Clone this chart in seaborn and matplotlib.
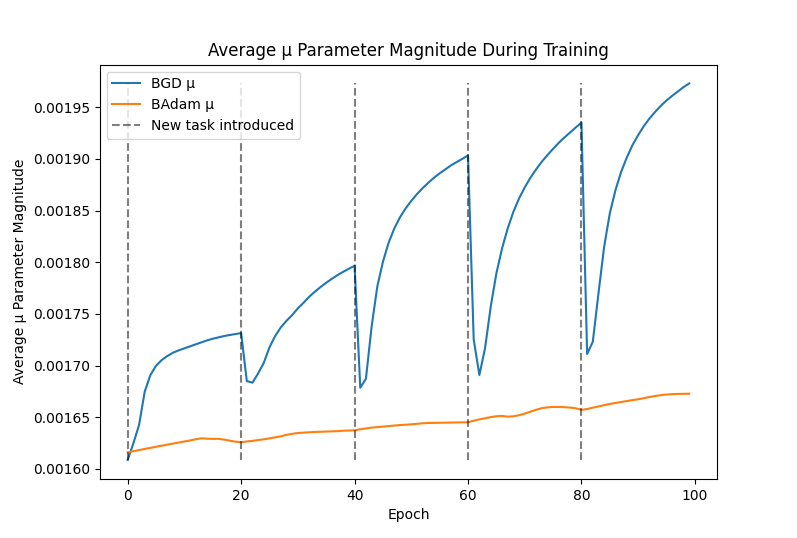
import numpy as np
import pandas as pd
import matplotlib
matplotlib.use("Agg")
import matplotlib.pyplot as plt
import seaborn as sns

epochs = list(range(100))
task_starts = [0, 20, 40, 60, 80]

bgd_mu = [
    0.0016087, 0.0016248, 0.0016425, 0.0016748, 0.0016909, 0.0016999, 0.0017054, 0.0017093, 0.0017125, 0.0017148,
    0.0017167, 0.0017186, 0.0017206, 0.0017225, 0.0017244, 0.0017260, 0.0017273, 0.0017286, 0.0017296, 0.0017305,
    0.0017315, 0.0016850, 0.0016835, 0.0016925, 0.0017028, 0.0017177, 0.0017286, 0.0017370, 0.0017434, 0.0017489,
    0.0017554, 0.0017608, 0.0017666, 0.0017715, 0.0017760, 0.0017802, 0.0017840, 0.0017876, 0.0017908, 0.0017937,
    0.0017966, 0.0016786, 0.0016873, 0.0017376, 0.0017763, 0.0018005, 0.0018189, 0.0018327, 0.0018434, 0.0018521,
    0.0018594, 0.0018659, 0.0018717, 0.0018769, 0.0018817, 0.0018860, 0.0018898, 0.0018937, 0.0018969, 0.0019000,
    0.0019033, 0.0017254, 0.0016909, 0.0017167, 0.0017570, 0.0017892, 0.0018134, 0.0018327, 0.0018488, 0.0018617,
    0.0018724, 0.0018817, 0.0018898, 0.0018972, 0.0019036, 0.0019097, 0.0019155, 0.0019207, 0.0019255, 0.0019304,
    0.0019350, 0.0017112, 0.0017231, 0.0017699, 0.0018150, 0.0018473, 0.0018698, 0.0018875, 0.0019014, 0.0019133,
    0.0019230, 0.0019317, 0.0019391, 0.0019455, 0.0019513, 0.0019565, 0.0019610, 0.0019652, 0.0019694, 0.0019730,
]

badam_mu = [
    0.0016160, 0.0016172, 0.0016183, 0.0016194, 0.0016204, 0.0016215, 0.0016225, 0.0016236, 0.0016246, 0.0016256,
    0.0016266, 0.0016276, 0.0016287, 0.0016297, 0.0016293, 0.0016291, 0.0016292, 0.0016284, 0.0016274, 0.0016264,
    0.0016260, 0.0016266, 0.0016272, 0.0016280, 0.0016287, 0.0016296, 0.0016306, 0.0016316, 0.0016330, 0.0016340,
    0.0016348, 0.0016352, 0.0016355, 0.0016358, 0.0016360, 0.0016362, 0.0016364, 0.0016366, 0.0016370, 0.0016372,
    0.0016374, 0.0016384, 0.0016392, 0.0016400, 0.0016405, 0.0016410, 0.0016415, 0.0016420, 0.0016425, 0.0016428,
    0.0016432, 0.0016437, 0.0016442, 0.0016445, 0.0016446, 0.0016447, 0.0016448, 0.0016449, 0.0016450, 0.0016451,
    0.0016452, 0.0016467, 0.0016480, 0.0016490, 0.0016502, 0.0016510, 0.0016513, 0.0016506, 0.0016510, 0.0016520,
    0.0016536, 0.0016554, 0.0016573, 0.0016588, 0.0016596, 0.0016600, 0.0016600, 0.0016598, 0.0016594, 0.0016587,
    0.0016572, 0.0016580, 0.0016593, 0.0016605, 0.0016617, 0.0016629, 0.0016639, 0.0016648, 0.0016657, 0.0016666,
    0.0016674, 0.0016685, 0.0016696, 0.0016706, 0.0016714, 0.0016720, 0.0016724, 0.0016726, 0.0016727, 0.0016728,
]

df = pd.DataFrame({"Epoch": epochs, "BGD": bgd_mu, "BAdam": badam_mu})

fig, ax = plt.subplots(figsize=(7.97, 5.38), dpi=100)
sns.lineplot(data=df, x="Epoch", y="BGD", label="BGD μ", color="#1f77b4", ax=ax)
sns.lineplot(data=df, x="Epoch", y="BAdam", label="BAdam μ", color="#ff7f0e", ax=ax)

# task boundaries span the full data range
ymin = min(min(bgd_mu), min(badam_mu))
ymax = max(max(bgd_mu), max(badam_mu))
ax.vlines(task_starts, ymin, ymax, colors="k", linestyles="--", alpha=0.5,
          label="New task introduced")

ax.set_title("Average μ Parameter Magnitude During Training")
ax.set_xlabel("Epoch")
ax.set_ylabel("Average μ Parameter Magnitude")
ax.legend(loc="upper left")

fig.savefig("out.png", dpi=100)
plt.close(fig)
